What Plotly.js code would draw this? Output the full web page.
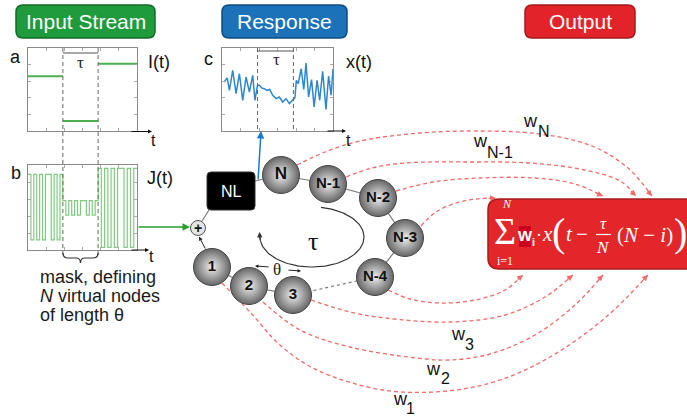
<!DOCTYPE html>
<html><head><meta charset="utf-8">
<script src="https://cdn.plot.ly/plotly-3.0.1.min.js"></script>
<style>html,body{margin:0;padding:0;background:#fff;}#chart{width:687px;height:416px;}</style>
</head><body><div id="chart"></div>
<script>
// ================= DATA =================
// segment boundaries in t (each segment lasts one delay tau)
const segBounds   = [0, 0.96, 1.93, 3];
// panel a: input stream I(t), one value per segment
const inputLevels = [0.66, 0.12, 0.81];
// panel b: masked input J(t); mask pattern and high/low level per segment
const maskBits    = [1,0,1,0,1,0,1,1,0,1,0,1];
const jHigh       = [0.89, 0.58, 0.96];
const jLow        = [0.12, 0.41, 0.03];
// panel c: response x(t)
const respT = [0.06,0.14,0.20,0.29,0.38,0.47,0.56,0.65,0.74,0.83,0.89,0.96,
               1.01,1.07,1.14,1.22,1.29,1.37,1.46,1.55,1.64,1.73,1.82,1.91,1.97,
               2.01,2.06,2.14,2.21,2.27,2.34,2.42,2.49,2.57,2.64,2.72,2.81,2.88,2.95,3.00];
const respX = [0.59,0.64,0.49,0.73,0.45,0.69,0.37,0.65,0.47,0.67,0.37,0.55,
               0.55,0.52,0.51,0.49,0.50,0.43,0.39,0.41,0.35,0.39,0.33,0.37,0.40,
               0.61,0.57,0.75,0.50,0.82,0.41,0.62,0.29,0.61,0.37,0.72,0.26,0.66,0.43,0.75];
// reservoir nodes and readout weights
const nodeLabels   = ['N','N-1','N-2','N-3','N-4','3','2','1'];
const weightSubs   = ['N','N-1','3','2','1'];
const headerLabels = ['Input Stream','Response','Output'];

// ================= LAYOUT CONFIG (geometry / styles) =================
const W=687, H=416;
const P = v => 1 - v/H;             // pixel y -> paper y
const F = 'Liberation Sans, Arial, sans-serif';
const SER = 'Liberation Serif, DejaVu Serif, serif';
const nodePos = {'N':[281,175],'N-1':[328,184],'N-2':[378,198],'N-3':[405,238],
                 'N-4':[375,277],'3':[293,295],'2':[249,286],'1':[212,267]};
const curvePts = {
 'N':  [[297,165],[325,152],[360,141],[420,133],[480,131],[540,134],[592,146],[628,168],[652,196]],
 'N-1':[[346,177],[372,168],[405,163],[470,162],[530,163],[585,170],[620,181],[636,196]],
 'N-2':[[396,191],[433,182],[480,178],[535,178],[575,184],[603,196]],
 'N-3':[[421,226],[436,212],[456,203],[476,199],[496,198]],
 'N-4':[[388,290],[410,299],[440,303],[475,300],[505,290],[523,275]],
 '3':  [[311,300],[350,312],[385,318],[450,322],[505,315],[545,297],[573,275]],
 '2':  [[263,302],[300,330],[350,347],[417,358],[450,360],[490,354],[535,335],[575,305],[603,275]],
 '1':  [[222,283],[250,312],[280,345],[317,370],[383,390],[447,391],[500,380],[550,357],[605,318],[648,275]]
};
const weightLabelPos = {'N':[[530,121],[544,131]],'N-1':[[480,141],[500,152]],
  '3':[[458,334],[469,344]],'2':[[433,369],[445,378]],'1':[[400,399],[410,408]]};
const headers = [
  {x0:16,x1:155,fill:'#1f9a3c',line:'#146b28'},
  {x0:222,x1:347,fill:'#1b72b8',line:'#0f4c80'},
  {x0:525,x1:635,fill:'#e2232a',line:'#a51a1d'}
];
const RED='#f26a6a';

function rr(x0,y0,x1,y1,r){
  return `M${x0+r},${y0} L${x1-r},${y0} Q${x1},${y0} ${x1},${y0+r} L${x1},${y1-r} Q${x1},${y1} ${x1-r},${y1} L${x0+r},${y1} Q${x0},${y1} ${x0},${y1-r} L${x0},${y0+r} Q${x0},${y0} ${x0+r},${y0} Z`;
}

// ================= TRACES =================
const traces = [];
// panel a
const ax=[],ay=[];
inputLevels.forEach((v,i)=>{ax.push(segBounds[i],segBounds[i+1],null);ay.push(v,v,null);});
traces.push({x:ax,y:ay,xaxis:'x2',yaxis:'y2',mode:'lines',line:{color:'#4cb050',width:2},hoverinfo:'skip'});
// panel b
const bx=[],by=[];
for(let s=0;s<3;s++){
  const w=(segBounds[s+1]-segBounds[s])/maskBits.length;
  maskBits.forEach((m,k)=>{bx.push(segBounds[s]+k*w);by.push(m?jHigh[s]:jLow[s]);});
}
bx.push(segBounds[3]); by.push(by[by.length-1]);
traces.push({x:bx,y:by,xaxis:'x3',yaxis:'y3',mode:'lines',line:{color:'#7fcc80',width:1.2,shape:'hv'},hoverinfo:'skip'});
// panel c
traces.push({x:respT,y:respX,xaxis:'x4',yaxis:'y4',mode:'lines',line:{color:'#2f86cc',width:1.5},hoverinfo:'skip'});

// readout weight curves
nodeLabels.forEach(n=>{
  const p=curvePts[n];
  traces.push({x:p.map(q=>q[0]),y:p.map(q=>q[1]),mode:'lines',
    line:{color:RED,width:1.3,dash:'4px,3px',shape:'spline',smoothing:1},hoverinfo:'skip'});
});
// ring connections
const ring=['N','N-1','N-2','N-3','N-4'];
traces.push({x:[255].concat(ring.map(n=>nodePos[n][0])),y:[181].concat(ring.map(n=>nodePos[n][1])),
  mode:'lines',line:{color:'#7a7a7a',width:1.2},hoverinfo:'skip'});
traces.push({x:[nodePos['N-4'][0],nodePos['3'][0]],y:[nodePos['N-4'][1],nodePos['3'][1]],
  mode:'lines',line:{color:'#7a7a7a',width:1.2,dash:'dot'},hoverinfo:'skip'});
const ring2=['3','2','1'];
traces.push({x:ring2.map(n=>nodePos[n][0]),y:ring2.map(n=>nodePos[n][1]),
  mode:'lines',line:{color:'#7a7a7a',width:1.2},hoverinfo:'skip'});
traces.push({x:[202,209],y:[221,210],mode:'lines',line:{color:'#7a7a7a',width:1.2},hoverinfo:'skip'});
// tau loop
const lx=[],ly=[];
for(let a=-80;a<=182;a+=2){const r=a*Math.PI/180;lx.push(312+52*Math.cos(r));ly.push(237+30*Math.sin(r));}
traces.push({x:lx,y:ly,mode:'lines',line:{color:'#333',width:1.2},hoverinfo:'skip'});
// nodes
traces.push({x:nodeLabels.map(n=>nodePos[n][0]),y:nodeLabels.map(n=>nodePos[n][1]),
  mode:'markers+text',text:nodeLabels,textposition:'middle center',
  textfont:{family:F,size:nodeLabels.map(n=>n==='N'?17:15),color:'#111',weight:'bold'},
  marker:{size:37,color:'#666666',gradient:{type:'radial',color:'#f0f0f0'},line:{color:'#444',width:1}},
  hoverinfo:'skip'});
// summing junction
traces.push({x:[198],y:[228],mode:'markers',marker:{size:15,color:'#e4e4e4',line:{color:'#555',width:1}},hoverinfo:'skip'});

// ================= SHAPES =================
const shapes=[];
headers.forEach(h=>shapes.push({type:'path',xref:'x',yref:'y',path:rr(h.x0,5,h.x1,38,7),fillcolor:h.fill,line:{color:h.line,width:1.5},layer:'above'}));
// output box
shapes.push({type:'path',xref:'x',yref:'y',path:rr(488,199,705,269,11),fillcolor:'#e2262a',line:{color:'#a81c1c',width:1.5},layer:'below'});
shapes.push({type:'rect',xref:'x',yref:'y',x0:519,x1:531,y0:226,y1:247,fillcolor:'#c9001f',line:{width:0},layer:'below'});
shapes.push({type:'line',xref:'x',yref:'y',x0:596,x1:611,y0:234.5,y1:234.5,line:{color:'#fff',width:1.2},layer:'above'});
// NL box
shapes.push({type:'path',xref:'x',yref:'y',path:rr(207,172,255,210,4),fillcolor:'#000',line:{color:'#333',width:1},layer:'above'});
// dashed tau markers through panels a and b
[1,2].forEach(i=>shapes.push({type:'line',xref:'x2',yref:'paper',x0:segBounds[i],x1:segBounds[i],y0:P(48),y1:P(256),line:{color:'#666',width:1,dash:'4px,3px'},layer:'above'}));
[1,2].forEach(i=>shapes.push({type:'line',xref:'x4',yref:'paper',x0:segBounds[i],x1:segBounds[i],y0:P(48),y1:P(131),line:{color:'#666',width:1,dash:'4px,3px'},layer:'above'}));
shapes.push({type:'line',xref:'x2',yref:'paper',x0:segBounds[1],x1:segBounds[2],y0:P(53),y1:P(53),line:{color:'#555',width:1},layer:'above'});
shapes.push({type:'line',xref:'x4',yref:'paper',x0:segBounds[1],x1:segBounds[2],y0:P(51),y1:P(51),line:{color:'#555',width:1},layer:'above'});
// brace
shapes.push({type:'path',xref:'x',yref:'y',path:'M63,253 Q63,258 68,258 L76,258 Q80.5,258 80.5,263 Q80.5,258 85,258 L93,258 Q98,258 98,253',line:{color:'#333',width:1.2},layer:'above'});

// ================= ANNOTATIONS =================
const ann=[];
function A(x,y,text,size,color,o){ann.push(Object.assign({x,y,xref:'x',yref:'y',text,showarrow:false,
  font:{family:F,size,color}},o||{}));}
function ARR(x0,y0,x1,y1,color,w,size){ann.push({x:x1,y:y1,ax:x0,ay:y0,xref:'x',yref:'y',axref:'x',ayref:'y',
  text:'',showarrow:true,arrowhead:2,arrowsize:size||1,arrowwidth:w||1,arrowcolor:color});}
headerLabels.forEach((t,i)=>A((headers[i].x0+headers[i].x1)/2,21.5,t,21,'#fff'));
A(15,57,'a',18,'#111'); A(16,173,'b',18,'#111'); A(208,59,'c',18,'#111');
A(159,62,'I(t)',18,'#111'); A(160,178,'J(t)',18,'#111'); A(359,62,'x(t)',18,'#111');
A(153,140,'t',16,'#111'); A(151,256,'t',16,'#111'); A(348,140,'t',16,'#111');
A(80.5,62,'τ',17,'#222',{font:{family:SER,size:17,color:'#222'}});
A(276,59,'τ',17,'#222',{font:{family:SER,size:17,color:'#222'}});
// t axis arrows
ARR(130,131.5,152,131.5,'#111',1,0.8); ARR(130,250,149,250,'#111',1,0.8); ARR(326,131,346,131,'#111',1,0.8);
// text under panel b
A(38,277,'mask, defining',18,'#1a1a1a',{xanchor:'left'});
A(38,296,'<i>N</i> virtual nodes',18,'#1a1a1a',{xanchor:'left'});
A(38,315,'of length θ',18,'#1a1a1a',{xanchor:'left'});
// signal path arrows
ARR(137,227,190,227,'#2aa02a',1.5,1);
ARR(258,181,261,131,'#1e78c8',1.5,1);
ARR(206,250,199,236.5,'#222',1,0.8);
ARR(260,241,259.5,232,'#333',1.2,0.9);
ARR(270,267,255,266,'#222',1,0.7); ARR(287,270,301,271,'#222',1,0.7);
A(277,269,'θ',17,'#222',{font:{family:SER,size:17,color:'#222'}});
A(313,241,'τ',26,'#111',{font:{family:SER,size:26,color:'#111'}});
A(231,191,'NL',16,'#fff');
A(198,227.5,'<b>+</b>',14,'#111');
// curve arrowheads
nodeLabels.forEach(n=>{
  const p=curvePts[n], a=p[p.length-2], b=p[p.length-1];
  const dx=b[0]-a[0], dy=b[1]-a[1], L=Math.hypot(dx,dy);
  ARR(b[0]-dx/L*9,b[1]-dy/L*9,b[0],b[1],RED,1.3,0.9);
});
// weight labels
weightSubs.forEach(s=>{const q=weightLabelPos[s];A(q[0][0],q[0][1],'w',18,'#111');A(q[1][0],q[1][1],s,16,'#111');});
// formula
const fw={family:SER,color:'#fff'};
A(505,231,'Σ',38,'#fff',{font:Object.assign({size:38},fw)});
A(507,204,'<i>N</i>',12,'#fff',{font:Object.assign({size:12},fw)});
A(505,261,'i=1',12,'#fff',{font:Object.assign({size:12},fw)});
A(525,235,'<b>w</b>',18,'#fff',{font:{family:F,size:18,color:'#fff'}});
A(533,242,'i',11,'#fff',{font:{family:F,size:11,color:'#fff',weight:'bold'}});
A(539,235,'·',18,'#fff',{font:Object.assign({size:18},fw)});
A(547,234,'<i>x</i>',21,'#fff',{font:Object.assign({size:21},fw)});
A(558,232,'(',40,'#fff',{font:Object.assign({size:40},fw)});
A(569,234,'<i>t</i>',21,'#fff',{font:Object.assign({size:21},fw)});
A(582,234,'−',21,'#fff',{font:Object.assign({size:21},fw)});
A(603,223,'<i>τ</i>',17,'#fff',{font:Object.assign({size:17},fw)});
A(603,247,'<i>N</i>',17,'#fff',{font:Object.assign({size:17},fw)});
A(645,235,'(<i>N</i> − <i>i</i>)',21,'#fff',{font:Object.assign({size:21},fw)});
A(680,232,')',40,'#fff',{font:Object.assign({size:40},fw)});

// ================= AXES =================
const hid={visible:false,fixedrange:true,showgrid:false,zeroline:false};
function inset(x0,x1,y0,y1,anchor,isX){
  return {domain:isX?[x0/W,x1/W]:[P(y1),P(y0)],anchor,range:isX?[0,3]:[0,1],showline:true,mirror:'ticks',
    linecolor:'#8a8a8a',linewidth:1,ticks:'inside',ticklen:3,tickcolor:'#aaa',dtick:isX?0.5:0.2,
    showticklabels:false,showgrid:false,zeroline:false,fixedrange:true};
}
const layout={width:W,height:H,margin:{l:0,r:0,t:0,b:0},showlegend:false,
  paper_bgcolor:'#fff',plot_bgcolor:'rgba(0,0,0,0)',
  xaxis:Object.assign({domain:[0,1],range:[0,W],anchor:'y'},hid),
  yaxis:Object.assign({domain:[0,1],range:[H,0],anchor:'x'},hid),
  xaxis2:inset(28,137,48,131,'y2',true), yaxis2:inset(28,137,48,131,'x2',false),
  xaxis3:inset(28,137,165,250,'y3',true), yaxis3:inset(28,137,165,250,'x3',false),
  xaxis4:inset(222,333,48,131,'y4',true), yaxis4:inset(222,333,48,131,'x4',false),
  shapes, annotations:ann};
Plotly.newPlot('chart',traces,layout,{displayModeBar:false,staticPlot:true});
</script></body></html>
